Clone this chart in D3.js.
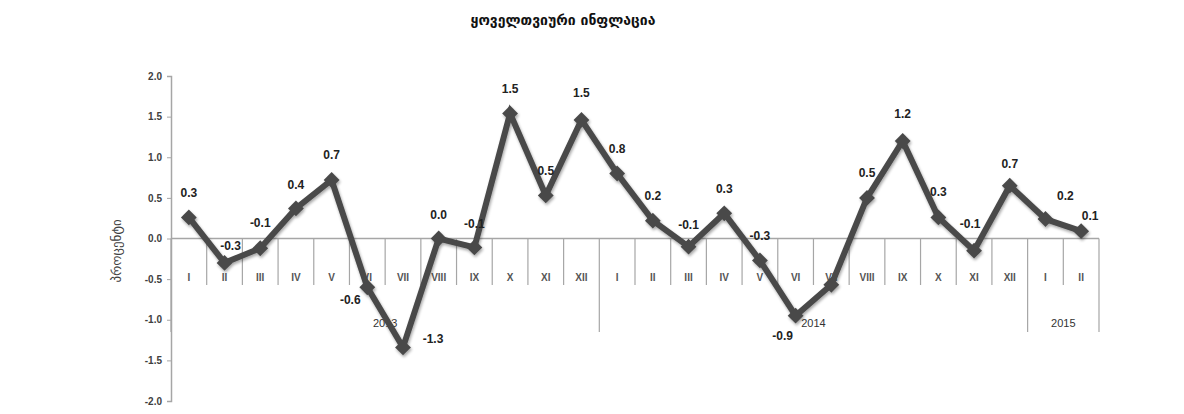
<!DOCTYPE html>
<html>
<head>
<meta charset="utf-8">
<script src="https://cdn.jsdelivr.net/npm/d3@7"></script>
<style>
    body { margin: 0; background: #fff; }
    text { font-family: "Liberation Sans", Arial, sans-serif; }
</style>
</head>
<body>
<svg id="chart"></svg>
<script>
// months shown on the category axis
var months = ["I", "II", "III", "IV", "V", "VI", "VII", "VIII", "IX", "X", "XI", "XII",
    "I", "II", "III", "IV", "V", "VI", "VII", "VIII", "IX", "X", "XI", "XII",
    "I", "II"];
var years = ["2013", "2014", "2015"];
var monthsPerYear = [12, 12, 2];
// monthly inflation, percent
var values = [0.26, -0.3, -0.12, 0.37, 0.72, -0.6, -1.34, 0.0, -0.11, 1.54, 0.53, 1.46,
    0.8, 0.22, -0.1, 0.31, -0.27, -0.95, -0.57, 0.5, 1.2, 0.26, -0.15, 0.65,
    0.24, 0.09];
var yTicks = [2.0, 1.5, 1.0, 0.5, 0.0, -0.5, -1.0, -1.5, -2.0];

//where each value label sits relative to its marker (null = no label)
var labelOffset = [[0, -25], [6, -17], [0, -25], [0, -24], [0, -25], [-17, 13], [30, -9], [0, -24], [0, -24], [0, -25], [0, -25], [0, -27],
    [0, -25], [0, -25], [0, -22], [0, -25], [0, -25], [-13, 20], null, [0, -25], [0, -27], [0, -26], [-4, -27], [0, -22],
    [20, -23], [9, -15]];

var W = 1184, H = 414;
var svg = d3.select("#chart").attr("width", W).attr("height", H);

//plain hyphen instead of the unicode minus
var fmt = function(v) { return d3.format(".1f")(v).replace("\u2212", "-"); };

var x = d3.scaleBand()
    .domain(d3.range(months.length))
    .range([171, 1099])
    .padding(0);
var y = d3.scaleLinear()
    .domain([-2, 2])
    .range([401, 76]);

var axisColor = "#a6a6a6";
var textColor = "#404040";

//title
svg.append("text")
    .attr("x", 563)
    .attr("y", 25)
    .attr("text-anchor", "middle")
    .style("font-family", "'DejaVu Sans', sans-serif")
    .style("font-weight", "bold")
    .style("font-size", "14px")
    .style("fill", "#111")
    .text("ყოველთვიური ინფლაცია");

//y axis title
svg.append("text")
    .attr("transform", "translate(121,251) rotate(-90)")
    .attr("text-anchor", "middle")
    .style("font-family", "'DejaVu Sans', sans-serif")
    .style("font-size", "13px")
    .style("fill", textColor)
    .text("პროცენტი");

//y axis
var yAxis = svg.append("g")
    .attr("transform", "translate(171,0)")
    .call(d3.axisLeft(y).tickValues(yTicks).tickSize(4).tickPadding(5).tickFormat(fmt));
yAxis.select(".domain").attr("stroke", axisColor).attr("stroke-width", 1.5);
yAxis.selectAll(".tick line").attr("stroke", axisColor);
yAxis.selectAll(".tick text")
    .style("font-size", "10px")
    .style("font-weight", "bold")
    .style("fill", textColor)
    .style("font-family", "'Liberation Sans', Arial, sans-serif");

//zero line
svg.append("line")
    .attr("x1", x.range()[0]).attr("x2", x.range()[1])
    .attr("y1", y(0)).attr("y2", y(0))
    .attr("stroke", axisColor).attr("stroke-width", 1.5);

//category separators
var yearStart = [0];
monthsPerYear.forEach(function(n, i) { yearStart.push(yearStart[i] + n); });
var bounds = d3.range(months.length + 1);
svg.append("g").selectAll("line")
    .data(bounds)
    .enter().append("line")
    .attr("x1", function(d) { return d < months.length ? x(d) : x.range()[1]; })
    .attr("x2", function(d) { return d < months.length ? x(d) : x.range()[1]; })
    .attr("y1", y(0))
    .attr("y2", function(d) { return yearStart.indexOf(d) >= 0 ? 332 : 285; })
    .attr("stroke", axisColor)
    .attr("stroke-width", 1.2);

//month labels
svg.append("g").selectAll("text")
    .data(months)
    .enter().append("text")
    .attr("x", function(d, i) { return x(i) + x.bandwidth() / 2; })
    .attr("y", 281)
    .attr("text-anchor", "middle")
    .style("font-size", "10px")
    .style("font-weight", "bold")
    .style("fill", "#555")
    .text(function(d) { return d; });

//year labels
svg.append("g").selectAll("text")
    .data(years)
    .enter().append("text")
    .attr("x", function(d, i) {
        var a = x(yearStart[i]);
        var b = yearStart[i + 1] < months.length ? x(yearStart[i + 1]) : x.range()[1];
        return (a + b) / 2;
    })
    .attr("y", 327)
    .attr("text-anchor", "middle")
    .style("font-size", "11px")
    .style("fill", "#333")
    .text(function(d) { return d; });

//the line
var cx = function(d, i) { return x(i) + x.bandwidth() / 2; };
var line = d3.line()
    .x(cx)
    .y(function(d) { return y(d); });

var defs = svg.append("defs");
var f = defs.append("filter").attr("id", "shadow").attr("x", "-10%").attr("y", "-10%").attr("width", "120%").attr("height", "120%");
f.append("feGaussianBlur").attr("in", "SourceAlpha").attr("stdDeviation", 1.5);
f.append("feOffset").attr("dx", 1).attr("dy", 1.5).attr("result", "b");
f.append("feComponentTransfer").append("feFuncA").attr("type", "linear").attr("slope", 0.35);
var m = f.append("feMerge");
m.append("feMergeNode");
m.append("feMergeNode").attr("in", "SourceGraphic");

var series = svg.append("g").attr("filter", "url(#shadow)");
series.append("path")
    .datum(values)
    .attr("d", line)
    .attr("fill", "none")
    .attr("stroke", "#4a4a4a")
    .attr("stroke-width", 6)
    .attr("stroke-linejoin", "miter");

series.selectAll(".marker")
    .data(values)
    .enter().append("path")
    .attr("class", "marker")
    .attr("d", d3.symbol().type(d3.symbolDiamond2).size(160))
    .attr("transform", function(d, i) { return "translate(" + cx(d, i) + "," + y(d) + ")"; })
    .attr("fill", "#4a4a4a");

//value labels
svg.append("g").selectAll("text")
    .data(values.map(function(v, i) { return { v: v, i: i }; }).filter(function(d) { return labelOffset[d.i]; }))
    .enter().append("text")
    .attr("x", function(d) { return cx(d.v, d.i) + labelOffset[d.i][0]; })
    .attr("y", function(d) { return y(d.v) + labelOffset[d.i][1]; })
    .attr("dy", "0.35em")
    .attr("text-anchor", "middle")
    .style("font-size", "12px")
    .style("font-weight", "bold")
    .style("fill", "#222")
    .text(function(d) { return fmt(d.v); });
</script>
</body>
</html>
